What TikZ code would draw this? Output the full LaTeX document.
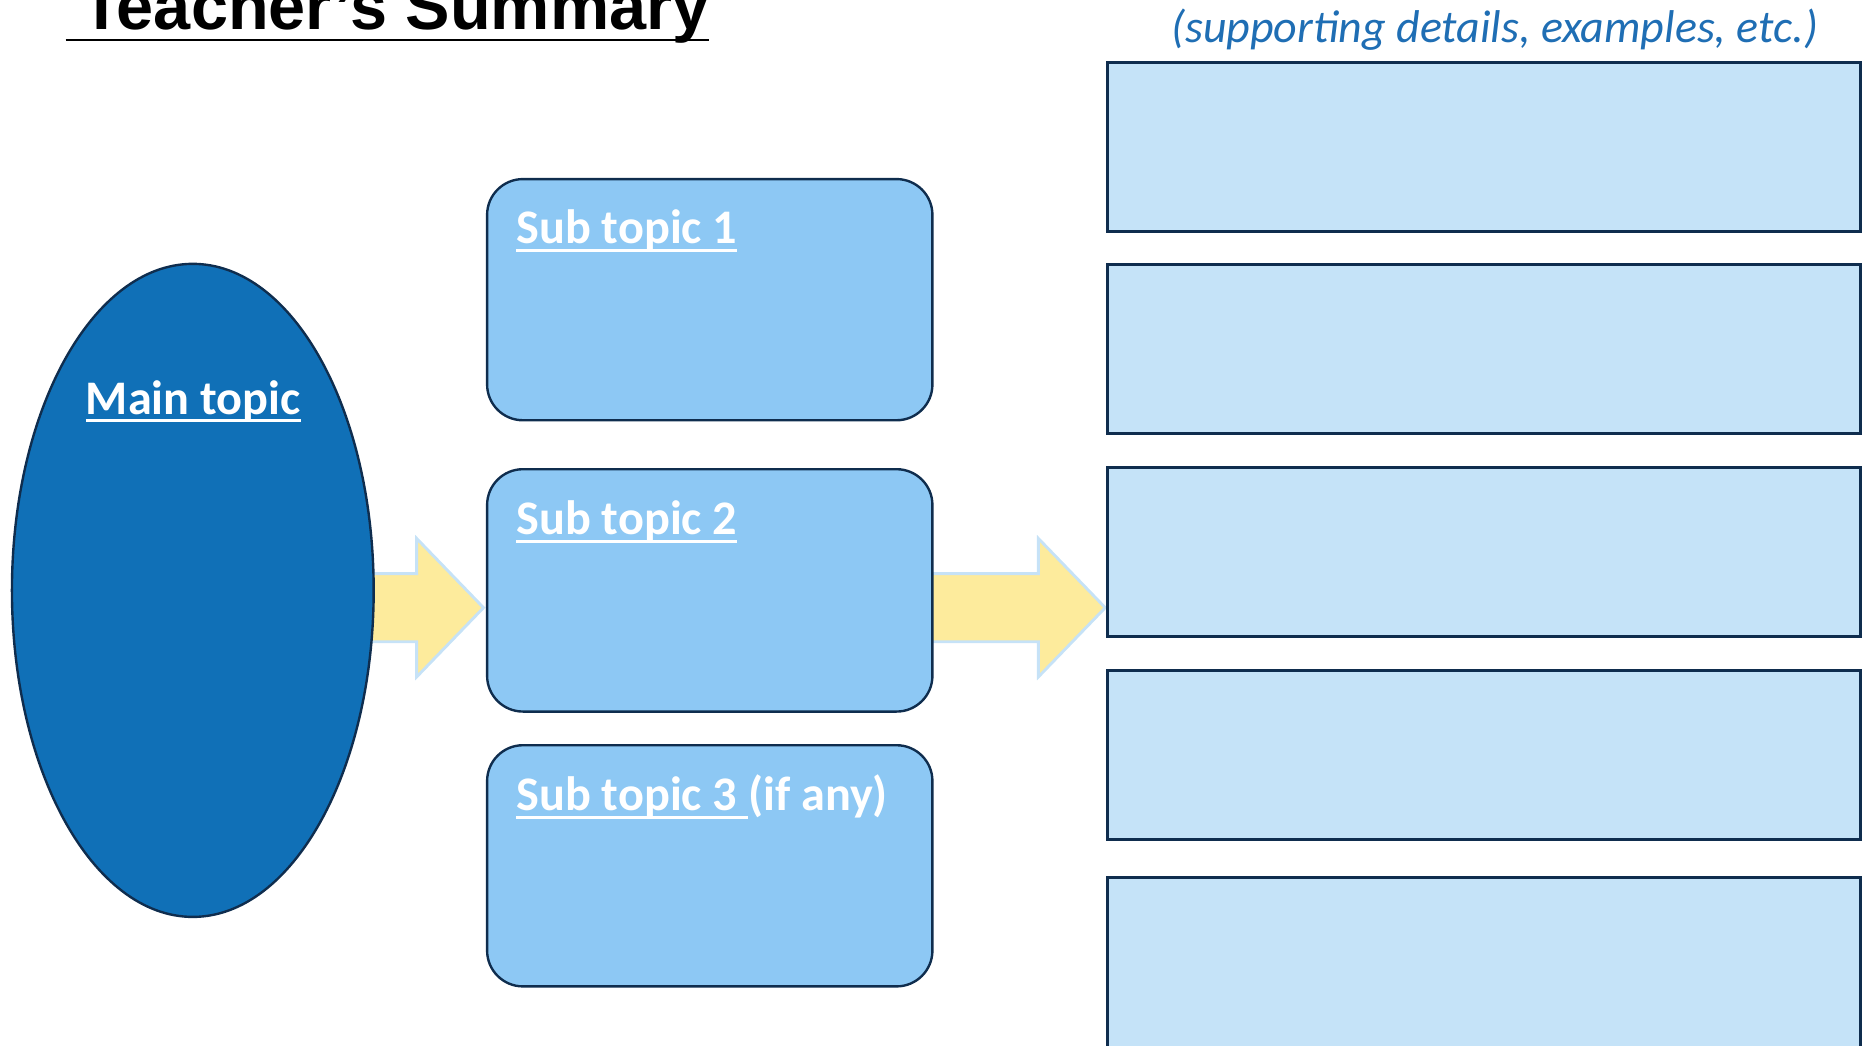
\documentclass[tikz,border=0pt]{standalone}
\usepackage{fontspec}
\usetikzlibrary{shapes.geometric,calc,backgrounds}
\newfontfamily\carlito{Carlito}
\newfontfamily\libsans{Liberation Sans}
\definecolor{navy}{HTML}{0F2D4E}
\definecolor{mainblue}{HTML}{1070B7}
\definecolor{subblue}{HTML}{8DC8F4}
\definecolor{detblue}{HTML}{C5E3F8}
\definecolor{arrowyellow}{HTML}{FDEB9C}
\definecolor{arrowedge}{HTML}{C6E2F7}
\definecolor{hintblue}{HTML}{1F6EB4}
\newcommand{\fatarrowpath}[2]{%
  \draw[fatarrow] ($(#1)+(0,-28.5)$) -- ($(#2)+(-56,-28.5)$) -- ($(#2)+(-56,-58)$)
    -- (#2) -- ($(#2)+(-56,58)$) -- ($(#2)+(-56,28.5)$) -- ($(#1)+(0,28.5)$) -- cycle;}
\begin{document}
\begin{tikzpicture}[x=1pt,y=-1pt,
  mainell/.style={ellipse, draw=navy, line width=2pt, fill=mainblue,
    minimum width=303pt, minimum height=547pt, inner sep=0pt},
  subbox/.style={rectangle, rounded corners=30pt, draw=navy, line width=2pt,
    fill=subblue, minimum width=373pt, minimum height=202pt, inner sep=0pt},
  detbox/.style={rectangle, draw=navy, line width=2.5pt, fill=detblue,
    minimum width=630pt, minimum height=141.5pt, inner sep=0pt},
  lbl/.style={inner sep=0pt, outer sep=0pt, anchor=base west, text=white,
    font=\carlito\bfseries\fontsize{40.4}{48}\selectfont},
  ul/.style={draw=white, line width=2.5pt},
  fatarrow/.style={fill=arrowyellow, draw=arrowedge, line width=2.4pt, line join=miter}]
\useasboundingbox (0,0) rectangle (1568,875.3);

% title
\node[inner sep=0pt, outer sep=0pt, anchor=base west,
  font=\libsans\bfseries\fontsize{55.8}{60}\selectfont] (title) at (68,25) {Teacher’s Summary};
\draw[line width=2.3pt] ($(title.base west)+(-13,8.6)$) -- ($(title.base east)+(0,8.6)$);

\node[inner sep=0pt, outer sep=0pt, anchor=base west, text=hintblue,
  font=\carlito\itshape\fontsize{38.5}{44}\selectfont] (hint) at (981,35.5)
  {(supporting details, examples, etc.)};

% main topic
\node[mainell] (main) at (161.5,494.5) {};
\node[lbl] (maint) at (72,347) {Main topic};
\draw[ul] ($(maint.base west)+(0,5.6)$) -- ($(maint.base east)+(0,5.6)$);

% sub topics
\node[subbox] (s1) at (594.5,251) {};
\node[subbox, minimum height=203pt] (s2) at (594.5,494.5) {};
\node[subbox] (s3) at (594.5,725.2) {};

\node[lbl] (s1t) at ($(s1.north west)+(25.5,55)$) {Sub topic 1};
\node[lbl] (s2t) at ($(s2.north west)+(25.5,55.5)$) {Sub topic 2};
\node[lbl] (s3t) at ($(s3.north west)+(25.5,55.5)$) {Sub topic 3\kern0.226em};
\node[lbl] (s3x) at (s3t.base east) {(if any)};
\draw[ul] ($(s1t.base west)+(0,6)$) -- ($(s1t.base east)+(0,6)$);
\draw[ul] ($(s2t.base west)+(0,6)$) -- ($(s2t.base east)+(0,6)$);
\draw[ul] ($(s3t.base west)+(0,6)$) -- ($(s3t.base east)+(0,6)$);

% detail boxes
\node[detbox, minimum height=142pt] (r1) at (1243,123) {};
\node[detbox] (r2) at (1243,292.5) {};
\node[detbox] (r3) at (1243,462.5) {};
\node[detbox] (r4) at (1243,632.5) {};
\node[detbox, minimum height=142pt] (r5) at (1243,806) {};

% arrows
\coordinate (a1s) at ($(main.east)+(-40,14.5)$);
\coordinate (a1t) at ($(s2.west)+(-2,14.5)$);
\coordinate (a2s) at ($(s2.east)+(-6,14.5)$);
\coordinate (a2t) at ($(r3.west |- a2s)+(-1,0)$);
\begin{pgfonlayer}{background}
\fatarrowpath{a1s}{a1t}
\fatarrowpath{a2s}{a2t}
\end{pgfonlayer}
\end{tikzpicture}
\end{document}
